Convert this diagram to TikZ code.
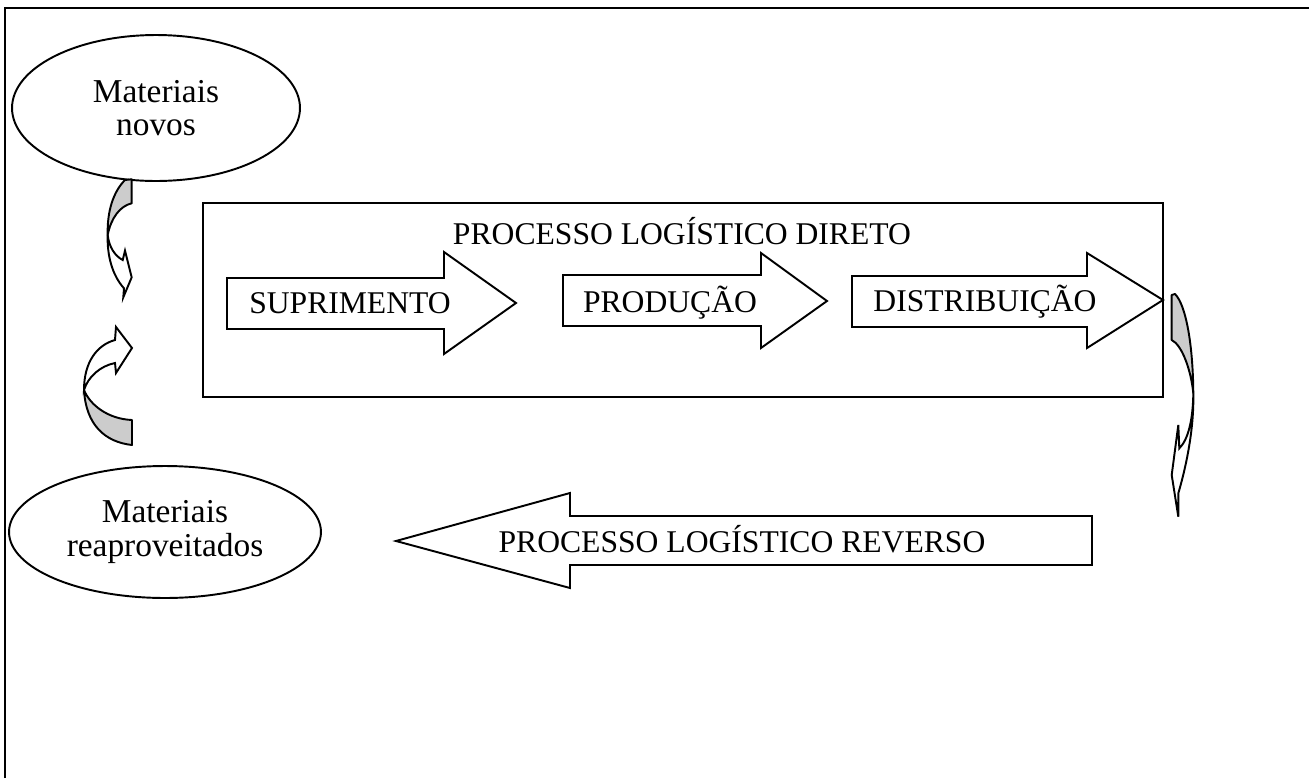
\documentclass[tikz,border=0pt]{standalone}
\usepackage{fontspec}
\setmainfont{Liberation Serif}
\usetikzlibrary{shapes.geometric}
\tikzset{
  frame/.style={line width=1.7pt,black},
  mat/.style={ellipse,draw=black,line width=1.1pt,inner sep=0pt,align=center,
    font=\fontsize{19}{18.8}\selectfont},
  lbl/.style={anchor=base,inner sep=0pt,font=\fontsize{18}{21}\selectfont},
  blockarr/.style={draw=black,fill=white,line width=1.1pt,line join=miter},
  % the curved arrows: grey back face and white front face
  cback/.style={draw=black,fill=black!20,line width=1.1pt,line join=round},
  cfront/.style={draw=black,fill=white,line width=1.1pt,line join=miter},
}
\begin{document}
\begin{tikzpicture}[x=0.02cm,y=-0.02cm]
  \useasboundingbox (0,0) rectangle (1309,778);
  % ---- outer frame (cut off on the right) ----
  \draw[frame] (5,778) -- (5,8) -- (1309,8);
  % ---- material sources ----
  \node[mat,minimum width=5.76cm,minimum height=2.92cm] (novos) at (156,108) {Materiais\\novos};
  \node[mat,minimum width=6.24cm,minimum height=2.64cm] (reap) at (165,532) {Materiais\\reaproveitados};
  % ---- direct logistics process ----
  \node[draw,line width=1.1pt,minimum width=19.2cm,minimum height=3.88cm,inner sep=0pt] (direto) at (683,300) {};
  \node[lbl] (tdir) at (682,244) {PROCESSO LOGÍSTICO DIRETO};
  \draw[blockarr] (227,278) -- (444,278) -- (444,252) -- (516,303) -- (444,354) -- (444,329) -- (227,329) -- cycle;
  \draw[blockarr] (563,275) -- (761,275) -- (761,253) -- (827,301) -- (761,348) -- (761,326) -- (563,326) -- cycle;
  \draw[blockarr] (852,276) -- (1087,276) -- (1087,253) -- (1163,300) -- (1087,348) -- (1087,327) -- (852,327) -- cycle;
  \node[lbl] (supr) at (350,313) {SUPRIMENTO};
  \node[lbl] (prod) at (670,312) {PRODUÇÃO};
  \node[lbl] (dist) at (985,311) {DISTRIBUIÇÃO};
  % ---- reverse logistics process ----
  \draw[blockarr] (1092,516) -- (570,516) -- (570,493) -- (396,541) -- (570,588) -- (570,565) -- (1092,565) -- cycle;
  \node[lbl] (trev) at (742,552) {PROCESSO LOGÍSTICO REVERSO};
  % ---- curved arrow below the new materials ----
  \draw[cback] (125,180) -- (131.7,179.3) -- (131.7,203.3)
    .. controls (120,206) and (111,218) .. (107.7,235)
    .. controls (107,212) and (113,192) .. (125,180) -- cycle;
  \draw[cfront] (107.7,235) .. controls (109,247) and (115,256) .. (122.7,260)
    -- (125,250.7) -- (131.7,277.3) -- (123.3,297.3) -- (124,288.3)
    .. controls (112,275) and (107,255) .. (107.7,235) -- cycle;
  % ---- curved arrow above the reused materials ----
  \draw[cback] (132,420) -- (132,445)
    .. controls (105,442) and (86,425) .. (84,390)
    .. controls (90,405) and (108,419) .. (132,420) -- cycle;
  \draw[cfront] (84,390) .. controls (84,362) and (97,345) .. (115,340)
    -- (116,327) -- (132,348) -- (116,373) -- (115,363)
    .. controls (100,366) and (88,377) .. (84,390) -- cycle;
  % ---- curved arrow leaving the distribution ----
  \draw[cback] (1171.7,295) -- (1175,294)
    .. controls (1186,305) and (1193,345) .. (1193.3,393.3)
    .. controls (1191,370) and (1182,345) .. (1171.7,340) -- cycle;
  \draw[cfront] (1193.3,393.3) .. controls (1193,420) and (1188,440) .. (1179.3,448.3)
    -- (1178.3,425) -- (1171.7,475) -- (1178.3,516.7) -- (1178.3,493.3)
    .. controls (1188,460) and (1194,425) .. (1193.3,393.3) -- cycle;
\end{tikzpicture}
\end{document}
